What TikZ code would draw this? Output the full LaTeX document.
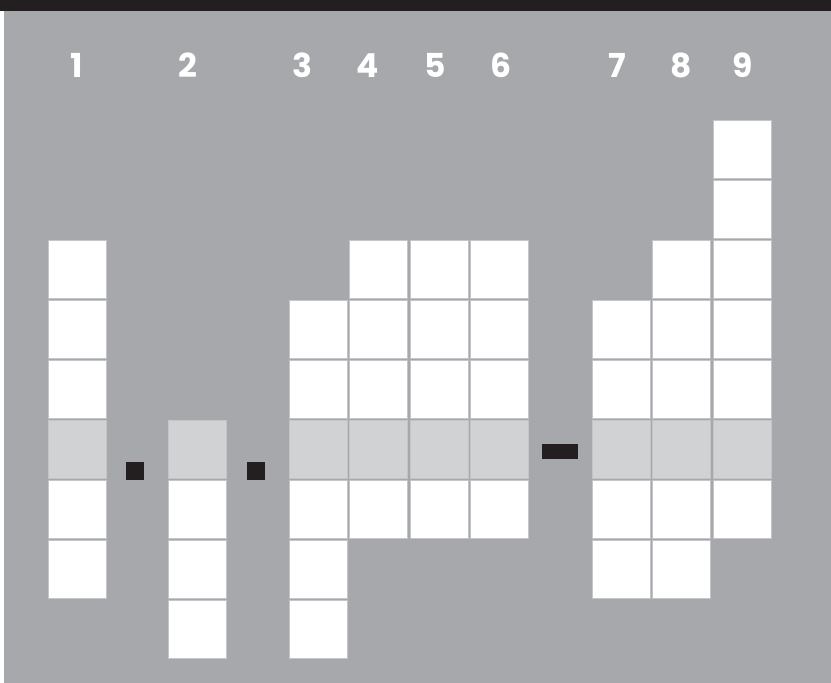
\documentclass[tikz,border=0pt]{standalone}
\usepackage{fontspec}
\setmainfont{Poppins}
\usepackage{tikz}
\definecolor{bgGray}{HTML}{A7A8AB}
\definecolor{rowGray}{HTML}{D1D2D4}
\definecolor{ink}{HTML}{231F20}
\definecolor{edgeGray}{HTML}{C4C5C8}

\begin{document}
\begin{tikzpicture}[
      x=1pt, y=-1pt,
      cell/.style={
        draw=edgeGray,
        line width=0.8pt,
        fill=white,
        minimum size=58pt,
        inner sep=0pt,
        anchor=north west
      },
      midcell/.style={cell, fill=rowGray},
      colnum/.style={text=white, font=\fontsize{33}{33}\selectfont\bfseries},
      opmark/.style={fill=ink, inner sep=0pt}
    ]
    \useasboundingbox (0,0) rectangle (831,683);
    \fill[bgGray] (4,0) rectangle (831,683);
    \fill[ink] (0,0) rectangle (831,11);

    % columns: number / left edge / label x / first row / last row
    \foreach \c/\x/\lx/\first/\last in {1/48/77/2/7, 2/168/188/5/8, 3/289/302/3/8,
        4/349/368/2/6, 5/410/435/2/6, 6/470/501/2/6,
        7/592/617/3/7, 8/652/681/2/7, 9/713/743/0/6}{
      \node[colnum] (n\c) at (\lx,65.5) {\c};
      \foreach \k in {\first,...,\last}{
        \ifnum\k=5
          \node[midcell] (c\c-\k) at (\x,{120+60*\k}) {};
        \else
          \node[cell] (c\c-\k) at (\x,{120+60*\k}) {};
        \fi
      }
    }

    \node[opmark, minimum width=18pt, minimum height=18pt] (dotA) at (135,471) {};
    \node[opmark, minimum width=18pt, minimum height=18pt] (dotB) at (256,471) {};
    \node[opmark, minimum width=36pt, minimum height=15pt] (bar) at (560,451.5) {};
  \end{tikzpicture}
\end{document}
